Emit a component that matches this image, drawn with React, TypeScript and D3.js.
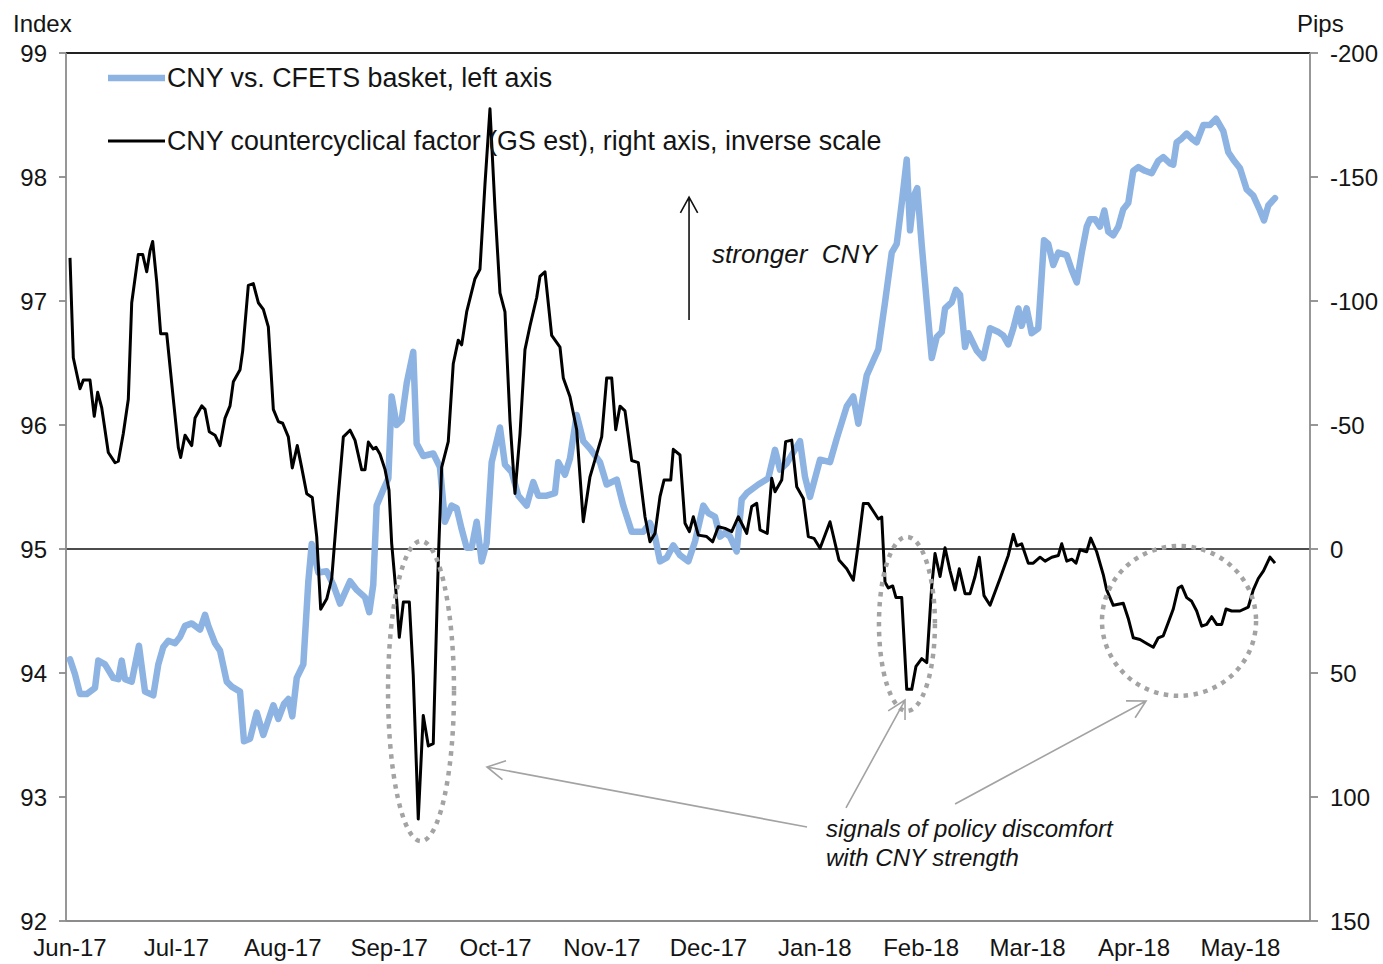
import React from 'react';
import * as d3 from 'd3';

// x unit: months since 1-Jun-2017 (0 = Jun-17, 11 = May-18)
const months = ["Jun-17", "Jul-17", "Aug-17", "Sep-17", "Oct-17", "Nov-17", "Dec-17", "Jan-18", "Feb-18", "Mar-18", "Apr-18", "May-18"];
const leftTicks = [92, 93, 94, 95, 96, 97, 98, 99];
const rightTicks = [-200, -150, -100, -50, 0, 50, 100, 150];

const seriesNames = ["CNY vs. CFETS basket, left axis", "CNY countercyclical factor (GS est), right axis, inverse scale"];

// CNY vs CFETS basket index (left axis)
const cfets: [number, number][] = [
  [0, 94.11], [0.047, 93.99], [0.094, 93.83], [0.157, 93.83], [0.235, 93.88], [0.266, 94.10], [0.329, 94.07], [0.407, 93.96], [0.454, 93.95], [0.486, 94.10], [0.517, 93.95], [0.580, 93.93], [0.648, 94.22], [0.705, 93.85], [0.783, 93.82], [0.830, 94.07], [0.877, 94.21], [0.924, 94.26], [0.987, 94.24], [1.034, 94.29], [1.081, 94.38], [1.144, 94.40], [1.222, 94.35], [1.269, 94.47], [1.300, 94.38], [1.363, 94.24], [1.410, 94.18], [1.473, 93.93], [1.520, 93.89], [1.598, 93.85], [1.635, 93.45], [1.692, 93.47], [1.755, 93.68], [1.817, 93.50], [1.911, 93.74], [1.958, 93.63], [2.011, 93.75], [2.052, 93.79], [2.089, 93.65], [2.131, 93.96], [2.193, 94.07], [2.240, 94.74], [2.272, 95.04], [2.334, 94.81], [2.413, 94.82], [2.475, 94.71], [2.538, 94.56], [2.632, 94.74], [2.695, 94.67], [2.773, 94.61], [2.813, 94.49], [2.850, 94.71], [2.882, 95.35], [2.945, 95.48], [2.992, 95.57], [3.023, 96.23], [3.070, 96.00], [3.117, 96.04], [3.165, 96.34], [3.226, 96.59], [3.258, 95.85], [3.320, 95.75], [3.414, 95.77], [3.477, 95.66], [3.524, 95.22], [3.587, 95.35], [3.634, 95.33], [3.681, 95.16], [3.728, 95.01], [3.775, 95.01], [3.822, 95.22], [3.869, 94.90], [3.916, 95.05], [3.963, 95.70], [4.041, 95.98], [4.088, 95.68], [4.151, 95.62], [4.213, 95.43], [4.292, 95.35], [4.354, 95.54], [4.401, 95.43], [4.480, 95.43], [4.558, 95.45], [4.589, 95.70], [4.652, 95.60], [4.699, 95.73], [4.762, 96.08], [4.824, 95.87], [4.887, 95.81], [4.981, 95.70], [5.044, 95.52], [5.138, 95.56], [5.200, 95.35], [5.279, 95.14], [5.388, 95.14], [5.451, 95.21], [5.498, 95.10], [5.545, 94.90], [5.608, 94.93], [5.670, 95.03], [5.733, 94.95], [5.811, 94.90], [5.874, 95.06], [5.952, 95.35], [5.999, 95.29], [6.062, 95.26], [6.109, 95.10], [6.156, 95.13], [6.203, 95.10], [6.266, 94.98], [6.313, 95.40], [6.360, 95.45], [6.469, 95.52], [6.563, 95.57], [6.626, 95.80], [6.673, 95.64], [6.736, 95.69], [6.861, 95.87], [6.908, 95.58], [6.955, 95.42], [7.049, 95.72], [7.143, 95.70], [7.206, 95.89], [7.300, 96.15], [7.362, 96.23], [7.409, 96.01], [7.488, 96.40], [7.550, 96.52], [7.597, 96.61], [7.660, 96.99], [7.723, 97.39], [7.770, 97.46], [7.817, 97.79], [7.864, 98.14], [7.895, 97.57], [7.932, 97.85], [7.963, 97.91], [8.005, 97.45], [8.052, 96.99], [8.099, 96.54], [8.146, 96.71], [8.193, 96.75], [8.224, 96.94], [8.287, 96.99], [8.327, 97.09], [8.365, 97.05], [8.412, 96.63], [8.443, 96.74], [8.522, 96.60], [8.584, 96.54], [8.647, 96.78], [8.725, 96.75], [8.772, 96.72], [8.818, 96.65], [8.866, 96.78], [8.913, 96.94], [8.944, 96.80], [8.991, 96.94], [9.038, 96.74], [9.100, 96.78], [9.132, 97.20], [9.154, 97.49], [9.194, 97.46], [9.241, 97.29], [9.288, 97.39], [9.367, 97.37], [9.415, 97.25], [9.462, 97.15], [9.509, 97.39], [9.556, 97.60], [9.586, 97.66], [9.633, 97.66], [9.680, 97.60], [9.721, 97.73], [9.758, 97.56], [9.805, 97.53], [9.853, 97.60], [9.899, 97.74], [9.946, 97.79], [9.993, 98.05], [10.041, 98.08], [10.103, 98.05], [10.166, 98.03], [10.228, 98.13], [10.275, 98.16], [10.338, 98.11], [10.369, 98.10], [10.401, 98.28], [10.448, 98.31], [10.495, 98.35], [10.542, 98.31], [10.589, 98.28], [10.652, 98.42], [10.714, 98.42], [10.771, 98.47], [10.839, 98.37], [10.886, 98.20], [10.933, 98.14], [10.996, 98.07], [11.059, 97.90], [11.121, 97.85], [11.184, 97.73], [11.222, 97.65], [11.262, 97.77], [11.325, 97.83]
];

// CNY countercyclical factor, pips (right axis, inverse scale)
const ccf: [number, number][] = [
  [0, -117.4], [0.031, -77.1], [0.094, -64.6], [0.125, -68.1], [0.188, -68.1], [0.228, -53.5], [0.260, -63.2], [0.298, -57.0], [0.360, -38.9], [0.423, -34.8], [0.454, -35.4], [0.501, -46.6], [0.548, -60.4], [0.580, -99.3], [0.642, -118.8], [0.683, -118.8], [0.721, -111.8], [0.752, -120.2], [0.777, -124.0], [0.815, -107.7], [0.852, -86.8], [0.909, -86.8], [0.971, -60.4], [1.018, -41.0], [1.040, -36.9], [1.081, -45.9], [1.112, -43.8], [1.144, -41.7], [1.175, -52.8], [1.238, -57.7], [1.269, -56.3], [1.309, -47.3], [1.363, -45.9], [1.410, -41.7], [1.457, -52.8], [1.504, -57.7], [1.535, -67.4], [1.598, -72.3], [1.623, -79.9], [1.676, -106.3], [1.723, -107.0], [1.770, -99.3], [1.817, -96.6], [1.864, -89.6], [1.911, -56.3], [1.958, -51.4], [1.999, -50.7], [2.052, -45.2], [2.089, -32.7], [2.136, -41.7], [2.178, -32.7], [2.225, -22.3], [2.277, -20.8], [2.319, -4.9], [2.356, 24.3], [2.413, 20.1], [2.460, 11.8], [2.522, -21.6], [2.569, -45.2], [2.632, -47.9], [2.679, -43.8], [2.741, -32.0], [2.773, -32.0], [2.804, -43.1], [2.850, -40.3], [2.876, -41.0], [2.914, -38.2], [2.961, -32.0], [2.998, -23.8], [3.023, -2.4], [3.070, 20.4], [3.095, 35.6], [3.133, 21.4], [3.189, 21.4], [3.226, 50.9], [3.273, 108.9], [3.320, 67.1], [3.368, 79.4], [3.414, 78.5], [3.461, 5.2], [3.493, -32.9], [3.555, -43.3], [3.602, -74.7], [3.649, -84.2], [3.681, -82.3], [3.728, -95.6], [3.806, -109.0], [3.853, -112.8], [3.900, -147.0], [3.947, -177.5], [3.994, -137.5], [4.041, -103.3], [4.088, -95.6], [4.135, -51.9], [4.182, -22.4], [4.229, -46.2], [4.276, -80.4], [4.323, -89.9], [4.386, -101.4], [4.417, -109.9], [4.464, -111.8], [4.527, -86.1], [4.605, -81.4], [4.636, -69.0], [4.699, -61.4], [4.762, -48.1], [4.824, -11.0], [4.887, -29.1], [4.997, -45.2], [5.044, -69.0], [5.091, -69.0], [5.129, -48.1], [5.169, -57.6], [5.216, -55.7], [5.279, -35.7], [5.341, -34.8], [5.404, -13.0], [5.451, -2.9], [5.498, -6.3], [5.545, -21.1], [5.583, -27.8], [5.646, -27.8], [5.670, -40.2], [5.733, -37.9], [5.780, -10.4], [5.821, -7.0], [5.858, -13.0], [5.905, -5.6], [5.984, -5.0], [6.040, -2.9], [6.093, -9.0], [6.156, -8.3], [6.219, -7.0], [6.281, -13.0], [6.360, -6.3], [6.407, -17.1], [6.454, -18.4], [6.485, -7.7], [6.553, -6.3], [6.595, -28.5], [6.626, -23.1], [6.689, -27.8], [6.726, -43.3], [6.783, -43.9], [6.830, -25.1], [6.892, -20.4], [6.939, -5.0], [6.992, -4.3], [7.049, -0.3], [7.143, -11.0], [7.227, 4.4], [7.300, 8.0], [7.362, 12.6], [7.409, -2.1], [7.456, -18.3], [7.503, -18.3], [7.550, -15.2], [7.597, -12.1], [7.629, -12.9], [7.660, 13.4], [7.691, 15.7], [7.732, 14.9], [7.763, 19.6], [7.817, 19.6], [7.864, 56.6], [7.911, 56.6], [7.951, 47.3], [8.005, 44.2], [8.052, 45.8], [8.099, 14.9], [8.130, 1.8], [8.177, 11.1], [8.224, -0.5], [8.271, 8.8], [8.318, 16.5], [8.358, 8.0], [8.412, 18.0], [8.459, 18.0], [8.506, 11.1], [8.546, 3.3], [8.590, 18.8], [8.647, 22.7], [8.741, 11.9], [8.818, 2.6], [8.866, -5.9], [8.898, -1.3], [8.944, -2.1], [9.006, 5.7], [9.053, 5.7], [9.117, 3.3], [9.164, 4.9], [9.227, 3.3], [9.289, 2.6], [9.321, -2.1], [9.368, 4.9], [9.415, 4.1], [9.455, 5.7], [9.492, 0.3], [9.555, 1.1], [9.593, -4.4], [9.649, 1.1], [9.711, 10.3], [9.743, 16.5], [9.805, 22.7], [9.899, 21.9], [9.946, 28.0], [9.993, 35.8], [10.056, 36.5], [10.119, 38.1], [10.181, 39.6], [10.228, 35.8], [10.275, 35.0], [10.322, 29.6], [10.369, 24.2], [10.416, 15.7], [10.448, 14.9], [10.495, 19.6], [10.542, 21.1], [10.589, 25.0], [10.636, 31.1], [10.683, 30.4], [10.730, 27.3], [10.777, 30.4], [10.824, 30.4], [10.865, 24.2], [10.918, 25.0], [10.996, 25.0], [11.074, 23.4], [11.121, 16.5], [11.168, 11.9], [11.217, 8.8], [11.278, 3.3], [11.325, 5.7]
];

// annotation shapes, in data units (months, pips)
const ellipses = [
  { t: 3.299, p: 57.3, rt: 0.31, rp: 60.5 },
  { t: 7.866, p: 30.2, rt: 0.263, rp: 35.1 },
  { t: 10.423, p: 29.0, rt: 0.724, rp: 30.2 },
];
const pointers = [
  { from: [6.927, 112.1], to: [3.919, 87.9] },
  { from: [7.293, 104.4], to: [7.848, 60.9] },
  { from: [8.318, 102.8], to: [10.113, 61.3] },
];
const strongerArrow = { t: 5.818, from: -92.3, to: -141.9 };
const strongerLabel = { t: 6.034, p: -115.3, text: "stronger  CNY" };
const noteLabel = { t: 7.105, p: 116.1, lines: ["signals of policy discomfort", "with CNY strength"] };

const W = 1383;
const H = 964;
const M = { left: 66, right: 1310, top: 53, bottom: 921 };
const FONT = "'Liberation Sans', Arial, Helvetica, sans-serif";
const TXT = "#141414";
const BLUE = "#8DB3E2";
const AXIS = "#8c8c8c";
const GREY = "#a3a3a3";

function arrowPath(x1: number, y1: number, x2: number, y2: number, len: number, ang: number) {
  const a = Math.atan2(y1 - y2, x1 - x2);
  const b1x = x2 + len * Math.cos(a + ang), b1y = y2 + len * Math.sin(a + ang);
  const b2x = x2 + len * Math.cos(a - ang), b2y = y2 + len * Math.sin(a - ang);
  return `M${x1},${y1}L${x2},${y2}M${b1x},${b1y}L${x2},${y2}L${b2x},${b2y}`;
}

export default function App() {
  const x = d3.scaleLinear().domain([-0.0376, 11.654]).range([M.left, M.right]);
  const yL = d3.scaleLinear().domain([92, 99]).range([M.bottom, M.top]);
  const yR = d3.scaleLinear().domain([150, -200]).range([M.bottom, M.top]);

  const lineL = d3.line<[number, number]>().x(d => x(d[0])).y(d => yL(d[1]));
  const lineR = d3.line<[number, number]>().x(d => x(d[0])).y(d => yR(d[1]));

  return (
    <svg width={W} height={H} style={{ position: 'absolute', left: 0, top: 0, background: '#fff' }} fontFamily={FONT}>
      <rect x={0} y={0} width={W} height={H} fill="#fff" />
      {/* axis titles */}
      <text x={13} y={32} fontSize={24} fill={TXT}>Index</text>
      <text x={1297} y={32} fontSize={24} fill={TXT}>Pips</text>

      {/* zero line (right axis 0 / left axis 95) */}
      <line x1={M.left} x2={M.right} y1={yR(0)} y2={yR(0)} stroke="#111" strokeWidth={1.6} />

      {/* frame */}
      <line x1={M.left} x2={M.right} y1={M.top} y2={M.top} stroke="#222" strokeWidth={2} />
      <line x1={M.left} x2={M.left} y1={M.top} y2={M.bottom} stroke={AXIS} strokeWidth={1.8} />
      <line x1={M.right} x2={M.right} y1={M.top} y2={M.bottom} stroke={AXIS} strokeWidth={1.8} />
      <line x1={M.left} x2={M.right} y1={M.bottom} y2={M.bottom} stroke={AXIS} strokeWidth={1.8} />

      {/* left axis */}
      {leftTicks.map(v => (
        <g key={'l' + v}>
          <line x1={M.left - 7} x2={M.left} y1={yL(v)} y2={yL(v)} stroke={AXIS} strokeWidth={1.8} />
          <text x={47} y={yL(v)} dy="0.36em" textAnchor="end" fontSize={24} fill={TXT}>{v}</text>
        </g>
      ))}
      {/* right axis */}
      {rightTicks.map(v => (
        <g key={'r' + v}>
          <line x1={M.right} x2={M.right + 8} y1={yR(v)} y2={yR(v)} stroke={AXIS} strokeWidth={1.8} />
          <text x={1330} y={yR(v)} dy="0.36em" textAnchor="start" fontSize={24} fill={TXT}>{v}</text>
        </g>
      ))}
      {/* month labels */}
      {months.map((m, i) => (
        <text key={m} x={x(i)} y={956} textAnchor="middle" fontSize={24} fill={TXT}>{m}</text>
      ))}

      {/* series */}
      <path d={lineL(cfets) || ''} fill="none" stroke={BLUE} strokeWidth={6.5} strokeLinejoin="round" strokeLinecap="round" />
      <path d={lineR(ccf) || ''} fill="none" stroke="#000" strokeWidth={3} strokeLinejoin="round" />

      {/* dotted ellipses */}
      {ellipses.map((e, i) => (
        <ellipse key={'e' + i} cx={x(e.t)} cy={yR(e.p)}
          rx={x(e.t + e.rt) - x(e.t)} ry={yR(e.p + e.rp) - yR(e.p)}
          fill="none" stroke={GREY} strokeWidth={4.5} strokeDasharray="4.5 5.5" />
      ))}

      {/* pointer arrows */}
      {pointers.map((p, i) => (
        <path key={'p' + i}
          d={arrowPath(x(p.from[0]), yR(p.from[1]), x(p.to[0]), yR(p.to[1]), 20, 0.5)}
          fill="none" stroke={GREY} strokeWidth={1.6} />
      ))}

      {/* stronger CNY arrow */}
      <path d={arrowPath(x(strongerArrow.t), yR(strongerArrow.from), x(strongerArrow.t), yR(strongerArrow.to), 18, 0.5)}
        fill="none" stroke="#111" strokeWidth={1.6} />
      <text x={x(strongerLabel.t)} y={yR(strongerLabel.p)} fontSize={26} fontStyle="italic" fill={TXT} style={{ whiteSpace: 'pre' }}>{strongerLabel.text}</text>

      <text x={x(noteLabel.t)} y={yR(noteLabel.p)} fontSize={24} fontStyle="italic" fill={TXT}>
        {noteLabel.lines.map((l, i) => (
          <tspan key={i} x={x(noteLabel.t)} dy={i === 0 ? 0 : 29}>{l}</tspan>
        ))}
      </text>

      {/* legend */}
      <line x1={108} x2={165} y1={78} y2={78} stroke={BLUE} strokeWidth={6.5} />
      <text x={167} y={87} fontSize={26.8} fill={TXT}>{seriesNames[0]}</text>
      <line x1={108} x2={165} y1={141} y2={141} stroke="#000" strokeWidth={3} />
      <text x={167} y={150} fontSize={26.8} fill={TXT}>{seriesNames[1]}</text>
    </svg>
  );
}
